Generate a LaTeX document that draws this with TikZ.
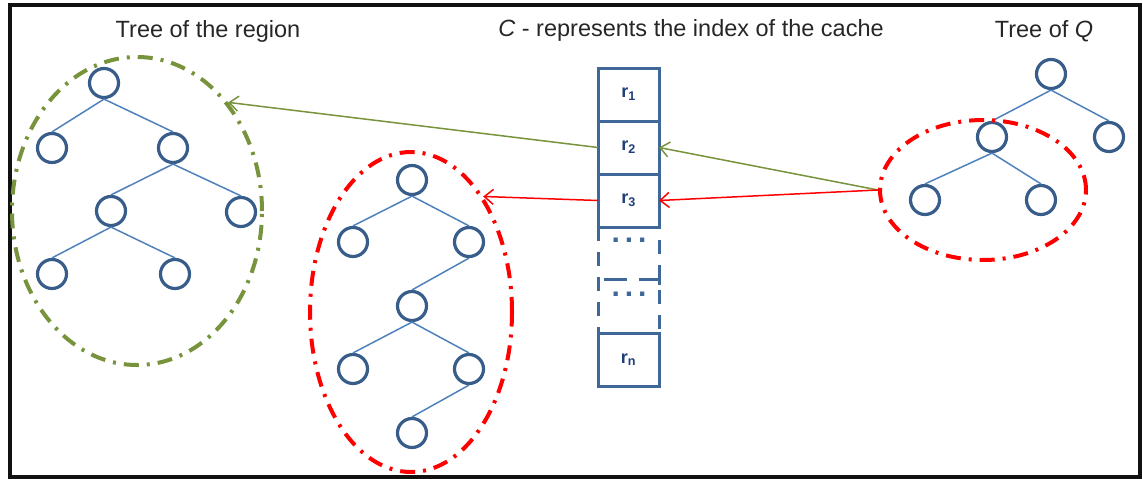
\documentclass[tikz,border=0pt]{standalone}
\usepackage{fontspec}
\setmainfont{Liberation Sans}
\usepackage{xcolor}
\usepackage{tikz}
\usetikzlibrary{arrows.meta,positioning,shapes.geometric}
\definecolor{frame}{HTML}{111111}
\definecolor{nodeblue}{HTML}{385D8A}
\definecolor{edgeblue}{HTML}{4F81BD}
\definecolor{cellblue}{HTML}{3F6797}
\definecolor{labelblue}{HTML}{1F3F7A}
\definecolor{olive}{HTML}{77933C}
\definecolor{alarm}{HTML}{FF0000}
\newcommand{\cachelabel}[1]{r\textsubscript{#1}}
\tikzset{vertex/.style={circle,draw=nodeblue,line width=3.2pt,minimum size=29pt,inner sep=0pt},branch/.style={draw=edgeblue,line width=1.5pt},cell/.style={draw=cellblue,line width=3pt,minimum width=61pt,minimum height=53pt,inner sep=0pt,outer sep=0pt,text=labelblue,font=\bfseries\fontsize{18}{18}\selectfont},gap/.style={draw=cellblue,line width=3pt,dash pattern=on 14pt off 11pt},caption/.style={font=\fontsize{23.5}{26}\selectfont,text=black!85},greenset/.style={ellipse,draw=olive,line width=4pt,dash pattern=on 15pt off 8pt on 3pt off 8pt,inner sep=0pt},redset/.style={ellipse,draw=alarm,line width=4pt,dash pattern=on 15pt off 8pt on 3pt off 8pt,inner sep=0pt},greenlink/.style={-{Straight Barb[length=9pt,width=15pt]},draw=olive,line width=1.5pt},redlink/.style={-{Straight Barb[length=9pt,width=15pt]},draw=alarm,line width=1.5pt},ellipsis/.style={text=cellblue,font=\bfseries\fontsize{30}{30}\selectfont,inner sep=0pt}}
\begin{document}
\begin{tikzpicture}[x=1pt,y=-1pt]
\useasboundingbox (0,0) rectangle (1143,479);
\draw[frame,line width=3.5pt] (10,5) rectangle (1140,477);
% captions
\node[caption] (captree) at (208,31) {Tree of the region};
\node[caption] (capcache) at (691,30) {\textit{C} - represents the index of the cache};
\node[caption] (capq) at (1044,31) {Tree of \textit{Q}};
% tree of the region
\node[vertex] (a1) at (104,83) {};
\node[vertex] (a2) at (52,148) {};
\node[vertex] (a3) at (173,148) {};
\node[vertex] (a4) at (111,211) {};
\node[vertex] (a5) at (241,212) {};
\node[vertex] (a6) at (52,274) {};
\node[vertex] (a7) at (175,274) {};
\draw[branch] (a1.south)--(a2.north);\draw[branch] (a1.south)--(a3.north);\draw[branch] (a3.south)--(a4.north);\draw[branch] (a3.south)--(a5.north);\draw[branch] (a4.south)--(a6.north);\draw[branch] (a4.south)--(a7.north);
% matching subtree
\node[vertex] (b1) at (412,180) {};
\node[vertex] (b2) at (353,242) {};
\node[vertex] (b3) at (469,242) {};
\node[vertex] (b4) at (412,306) {};
\node[vertex] (b5) at (353,369) {};
\node[vertex] (b6) at (469,369) {};
\node[vertex] (b7) at (412,433) {};
\draw[branch] (b1.south)--(b2.north);\draw[branch] (b1.south)--(b3.north);\draw[branch] (b3.south)--(b4.north);\draw[branch] (b4.south)--(b5.north);\draw[branch] (b4.south)--(b6.north);\draw[branch] (b6.south)--(b7.north);
% tree of Q
\node[vertex] (q1) at (1051,74) {};
\node[vertex] (q2) at (992,137) {};
\node[vertex] (q3) at (1109,137) {};
\node[vertex] (q4) at (925,200) {};
\node[vertex] (q5) at (1041,200) {};
\draw[branch] (q1.south)--(q2.north);\draw[branch] (q1.south)--(q3.north);\draw[branch] (q2.south)--(q4.north);\draw[branch] (q2.south)--(q5.north);
% sets
\node[greenset,minimum width=250pt,minimum height=308pt] (regionset) at (137,211) {};
\node[redset,minimum width=202pt,minimum height=320pt] (subtree) at (411,312) {};
\node[redset,minimum width=206pt,minimum height=140pt] (qset) at (983,190) {};
% cache index
\node[cell] (r1) at (628.5,94.5) {\cachelabel{1}};
\node[cell,below=0pt of r1] (r2) {\cachelabel{2}};
\node[cell,below=0pt of r2] (r3) {\cachelabel{3}};
\node[cell,below=106pt of r3] (rn) {\cachelabel{n}};
\draw[gap] (r3.south west)--(rn.north west);
\draw[gap,dash phase=12pt] (r3.south east)--(rn.north east);
\draw[gap,dash pattern=on 23pt off 12pt on 30pt] ([xshift=6pt]r3.south west|-0,279)--(r3.south east|-0,279)--++(0,6);
\node[ellipsis] (dots1) at (629,240) {.\hspace{5pt}.\hspace{5pt}.};
\node[ellipsis] (dots2) at (629,294) {.\hspace{5pt}.\hspace{5pt}.};
% lookups
\draw[greenlink] (r2.west)--(regionset.50);
\draw[redlink] (r3.west)--(subtree.58);
\draw[greenlink] (qset.west)--(r2.east);
\draw[redlink] (qset.west)--(r3.east);
\end{tikzpicture}
\end{document}
